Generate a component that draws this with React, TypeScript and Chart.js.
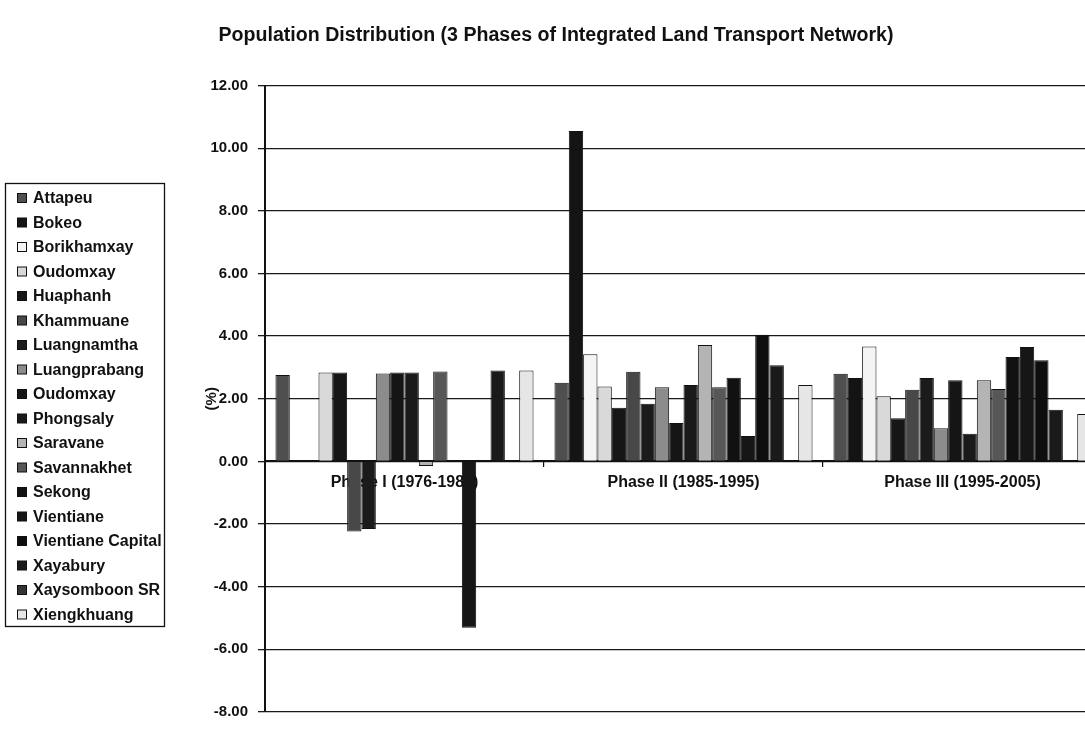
import React, { useEffect, useRef } from "react";
import { Chart, registerables } from "chart.js";

Chart.register(...registerables);

const categories = ["Phase I (1976-1985)", "Phase II (1985-1995)", "Phase III (1995-2005)"];

const provinces = [
  "Attapeu",
  "Bokeo",
  "Borikhamxay",
  "Oudomxay",
  "Huaphanh",
  "Khammuane",
  "Luangnamtha",
  "Luangprabang",
  "Oudomxay",
  "Phongsaly",
  "Saravane",
  "Savannakhet",
  "Sekong",
  "Vientiane",
  "Vientiane Capital",
  "Xayabury",
  "Xaysomboon SR",
  "Xiengkhuang",
];

// values (%) per phase, in province order
const phase1 = [2.76, null, null, 2.84, 2.84, -2.24, -2.16, 2.81, 2.84, 2.84, -0.15, 2.87, null, -5.31, null, 2.9, null, 2.9];
const phase2 = [2.51, 10.55, 3.42, 2.39, 1.71, 2.86, 1.84, 2.37, 1.23, 2.44, 3.72, 2.37, 2.67, 0.81, 4.04, 3.07, null, 2.44];
const phase3 = [2.8, 2.66, 3.67, 2.08, 1.38, 2.29, 2.66, 1.06, 2.59, 0.88, 2.59, 2.31, 3.33, 3.65, 3.23, 1.65, null, 1.51];

const yMin = -8;
const yMax = 12;
const yStep = 2;

const fills = [
  "#4f4f4f",
  "#141414",
  "#f4f4f4",
  "#d9d9d9",
  "#161616",
  "#484848",
  "#1b1b1b",
  "#8c8c8c",
  "#151515",
  "#1a1a1a",
  "#b4b4b4",
  "#575757",
  "#111111",
  "#161616",
  "#0e0e0e",
  "#1a1a1a",
  "#333333",
  "#e6e6e6",
];

const FONT = "'Liberation Sans', Arial, sans-serif";

const boxLegend = {
  id: "boxLegend",
  afterDraw(chart: any) {
    const ctx = chart.ctx;
    ctx.save();
    ctx.strokeStyle = "#111";
    ctx.lineWidth = 1.3;
    ctx.strokeRect(5.5, 183.5, 159, 443);
    ctx.font = `bold 16px ${FONT}`;
    ctx.textBaseline = "middle";
    ctx.textAlign = "left";
    chart.data.datasets.forEach((ds: any, i: number) => {
      const cy = 198 + i * 24.5;
      ctx.fillStyle = ds.backgroundColor;
      ctx.fillRect(17, cy - 4.5, 9, 9);
      ctx.strokeStyle = "#111";
      ctx.lineWidth = 1;
      ctx.strokeRect(17.5, cy - 4.5, 9, 9);
      ctx.fillStyle = "#111";
      ctx.fillText(ds.label, 33, cy + 1);
    });
    ctx.restore();
  },
};

export default function App() {
  const ref = useRef<HTMLCanvasElement | null>(null);

  useEffect(() => {
    if (!ref.current) return;
    const datasets = provinces.map((name, i) => ({
      label: name,
      data: [phase1[i], phase2[i], phase3[i]],
      backgroundColor: fills[i],
      borderColor: "#111",
      borderWidth: 1,
      categoryPercentage: 0.925,
      barPercentage: 1,
    }));
    const chart = new Chart(ref.current, {
      type: "bar",
      data: { labels: categories, datasets },
      options: {
        responsive: false,
        animation: false,
        layout: { padding: { left: 10, right: 8, top: 0, bottom: 9 } },
        plugins: {
          legend: { display: false },
          tooltip: { enabled: false },
          title: {
            display: true,
            text: "Population Distribution (3 Phases of Integrated Land Transport Network)",
            color: "#111",
            font: { family: FONT, size: 19.6, weight: "bold" },
            padding: { top: 24, bottom: 38 },
          },
        },
        scales: {
          x: {
            type: "category",
            position: { y: 0 } as any,
            afterFit: (s: any) => {
              s.height = 0;
            },
            grid: {
              drawOnChartArea: false,
              drawTicks: true,
              tickLength: 5,
              color: "#111",
              lineWidth: 1.2,
              offset: true,
            },
            border: { display: true, color: "#111", width: 2 },
            ticks: {
              color: "#111",
              font: { family: FONT, size: 16, weight: "bold" },
              padding: 7,
              maxRotation: 0,
              autoSkip: false,
            },
          },
          y: {
            min: yMin,
            max: yMax,
            afterFit: (s: any) => {
              s.width = 255;
            },
            ticks: {
              stepSize: yStep,
              color: "#111",
              font: { family: FONT, size: 15, weight: "bold" },
              padding: 10,
              callback: (v: any) => Number(v).toFixed(2),
            },
            grid: {
              color: "#1a1a1a",
              lineWidth: 1.3,
              tickLength: 7,
            },
            border: { display: true, color: "#111", width: 2 },
            title: {
              display: true,
              text: "(%)",
              color: "#111",
              font: { family: FONT, size: 15, weight: "bold" },
              padding: { top: 193, bottom: 4 },
            },
          },
        },
      },
      plugins: [boxLegend],
    });
    return () => chart.destroy();
  }, []);

  return (
    <div
      style={{
        position: "fixed",
        left: 0,
        top: 0,
        width: 1085,
        height: 731,
        overflow: "hidden",
        background: "#fff",
      }}
    >
      <canvas ref={ref} width={1110} height={731} style={{ display: "block" }} />
    </div>
  );
}
